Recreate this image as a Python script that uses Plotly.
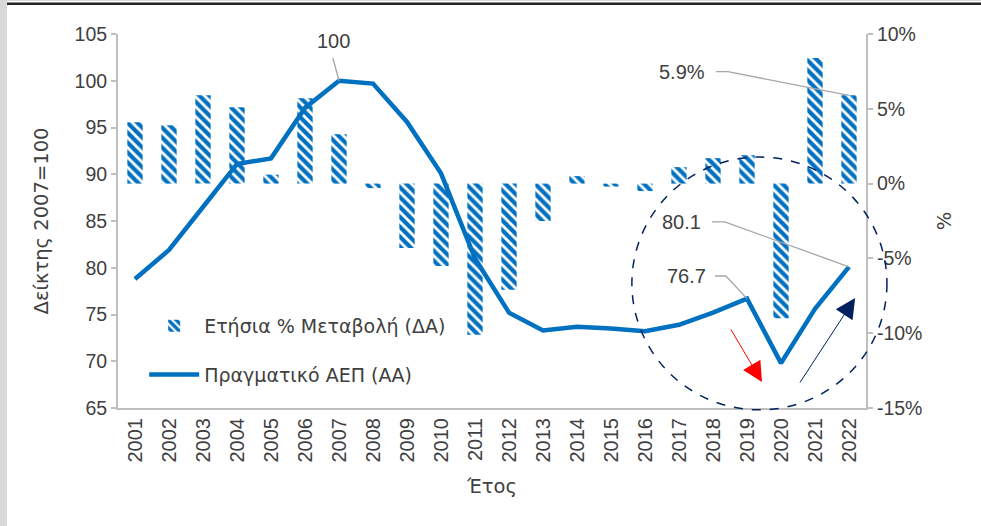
import plotly.graph_objects as go

years = list(range(2001, 2023))
pct_change = [4.1, 3.9, 5.9, 5.1, 0.6, 5.7, 3.3, -0.3, -4.3, -5.5, -10.1, -7.1, -2.5, 0.5,
              -0.2, -0.5, 1.1, 1.7, 1.9, -9.0, 8.4, 5.9]
real_gdp = [78.8, 81.9, 86.5, 91.1, 91.7, 97.1, 100.0, 99.7, 95.6, 90.1, 81.0, 75.2, 73.3,
            73.7, 73.5, 73.2, 73.9, 75.2, 76.7, 69.8, 75.6, 80.1]

left_ticks = [65, 70, 75, 80, 85, 90, 95, 100, 105]
right_ticks = [-15, -10, -5, 0, 5, 10]

BLUE = "#0070C0"
NAVY = "#002060"
GRAY = "#A6A6A6"
TXT = "#404040"
NUMFONT = "Liberation Sans"
TXTFONT = "DejaVu Sans"

fig = go.Figure()
fig.add_trace(go.Bar(
    x=years, y=pct_change, name="Ετήσια % Μεταβολή (ΔΑ)", yaxis="y", width=0.45,
    marker=dict(color="white", line=dict(width=0),
                pattern=dict(shape="\\", fgcolor=BLUE, bgcolor="white", size=7, solidity=0.6,
                             fgopacity=1)),
    legendgroup="a",
))
fig.add_trace(go.Scatter(
    x=years, y=real_gdp, name="Πραγματικό ΑΕΠ (ΑΑ)", yaxis="y2", mode="lines",
    line=dict(color=BLUE, width=4.5), legendgroup="b",
))

shapes = []
# leader lines
shapes.append(dict(type="path", xref="x", yref="y2", path="M 2006.82,102.43 L 2007,100",
                   line=dict(color=GRAY, width=1.3)))
shapes.append(dict(type="path", xref="x", yref="y", path="M 2018.09,7.48 L 2018.44,7.48 L 2022,5.9",
                   line=dict(color=GRAY, width=1.3)))
shapes.append(dict(type="path", xref="x", yref="y2", path="M 2017.97,84.9 L 2018.35,84.9 L 2022,80.1",
                   line=dict(color=GRAY, width=1.3)))
shapes.append(dict(type="path", xref="x", yref="y2", path="M 2018.06,79.12 L 2018.38,79.12 L 2019,76.7",
                   line=dict(color=GRAY, width=1.3)))
# dashed circle
shapes.append(dict(type="circle", xref="paper", yref="paper", x0=0.687, x1=1.028, y0=-0.005, y1=0.671,
                   line=dict(color=NAVY, width=1.5, dash="dash")))
# page decorations
shapes.append(dict(type="rect", xref="paper", yref="paper", x0=-0.16, x1=-0.1484, y0=-0.32, y1=1.1,
                   fillcolor="#D9D9D9", line=dict(width=0), layer="below"))
shapes.append(dict(type="rect", xref="paper", yref="paper", x0=-0.16, x1=1.16, y0=1.088, y1=1.1,
                   fillcolor="#D9D9D9", line=dict(width=0), layer="below"))
shapes.append(dict(type="line", xref="paper", yref="paper", x0=-0.1484, x1=1.16, y0=1.081, y1=1.081,
                   line=dict(color="#222222", width=2.5)))

ann_font = dict(family=NUMFONT, size=20, color=TXT)
annotations = [
    dict(x=2006.83, y=104.2, xref="x", yref="y2", text="100", showarrow=False, font=ann_font),
    dict(x=2017.82, y=7.48, xref="x", yref="y", text="5.9%", showarrow=False, xanchor="right", font=ann_font),
    dict(x=2017.7, y=84.9, xref="x", yref="y2", text="80.1", showarrow=False, xanchor="right", font=ann_font),
    dict(x=2017.85, y=79.12, xref="x", yref="y2", text="76.7", showarrow=False, xanchor="right", font=ann_font),
    # trend arrows
    dict(x=2019.44, y=67.78, ax=2018.5, ay=73.56, xref="x", yref="y2", axref="x", ayref="y2",
         text="", showarrow=True, arrowhead=2, arrowsize=4, arrowwidth=1, arrowcolor="#FF0000"),
    dict(x=2022.18, y=76.76, ax=2020.53, ay=67.57, xref="x", yref="y2", axref="x", ayref="y2",
         text="", showarrow=True, arrowhead=2, arrowsize=4, arrowwidth=1, arrowcolor=NAVY),
]

tick_font_y = dict(family=NUMFONT, size=19.5, color=TXT)
title_font = dict(family=TXTFONT, size=19.5, color=TXT)

fig.update_layout(
    width=981, height=526,
    margin=dict(l=118, r=115, t=34, b=118),
    paper_bgcolor="white", plot_bgcolor="white",
    font=dict(family=NUMFONT, size=18, color=TXT),
    showlegend=True,
    legend=dict(x=0.035, y=0.27, xanchor="left", yanchor="top", bgcolor="rgba(0,0,0,0)",
                font=dict(family=TXTFONT, size=19, color=TXT), itemwidth=50,
                tracegroupgap=21, traceorder="grouped"),
    xaxis=dict(range=[2000.5, 2022.5], tickmode="array", tickvals=years, ticktext=[str(y) for y in years],
               tickangle=-90, tickfont=dict(family=NUMFONT, size=20, color=TXT),
               showline=True, linecolor="#BFBFBF", linewidth=2, ticks="",
               showgrid=False, zeroline=False,
               title=dict(text="Έτος", standoff=18, font=title_font)),
    yaxis=dict(range=[-15, 10], tickvals=right_ticks, ticktext=[f"{t}%" for t in right_ticks],
               tickfont=tick_font_y,
               side="right", showline=True, linecolor="#BFBFBF", linewidth=2, ticks="outside",
               ticklen=5, tickcolor="#BFBFBF", tickwidth=2, showgrid=False, zeroline=False,
               title=dict(text="%", standoff=16, font=title_font)),
    yaxis2=dict(range=[65, 105], tickvals=left_ticks, overlaying="y", side="left",
                tickfont=tick_font_y,
                showline=True, linecolor="#BFBFBF", linewidth=2, ticks="outside", ticklen=5,
                tickcolor="#BFBFBF", tickwidth=2, showgrid=False, zeroline=False,
                title=dict(text="Δείκτης 2007=100", standoff=21, font=title_font)),
    shapes=shapes,
    annotations=annotations,
)

fig.write_html("out.html", config={"displayModeBar": False},
               post_script="document.body.style.margin='0px';")
